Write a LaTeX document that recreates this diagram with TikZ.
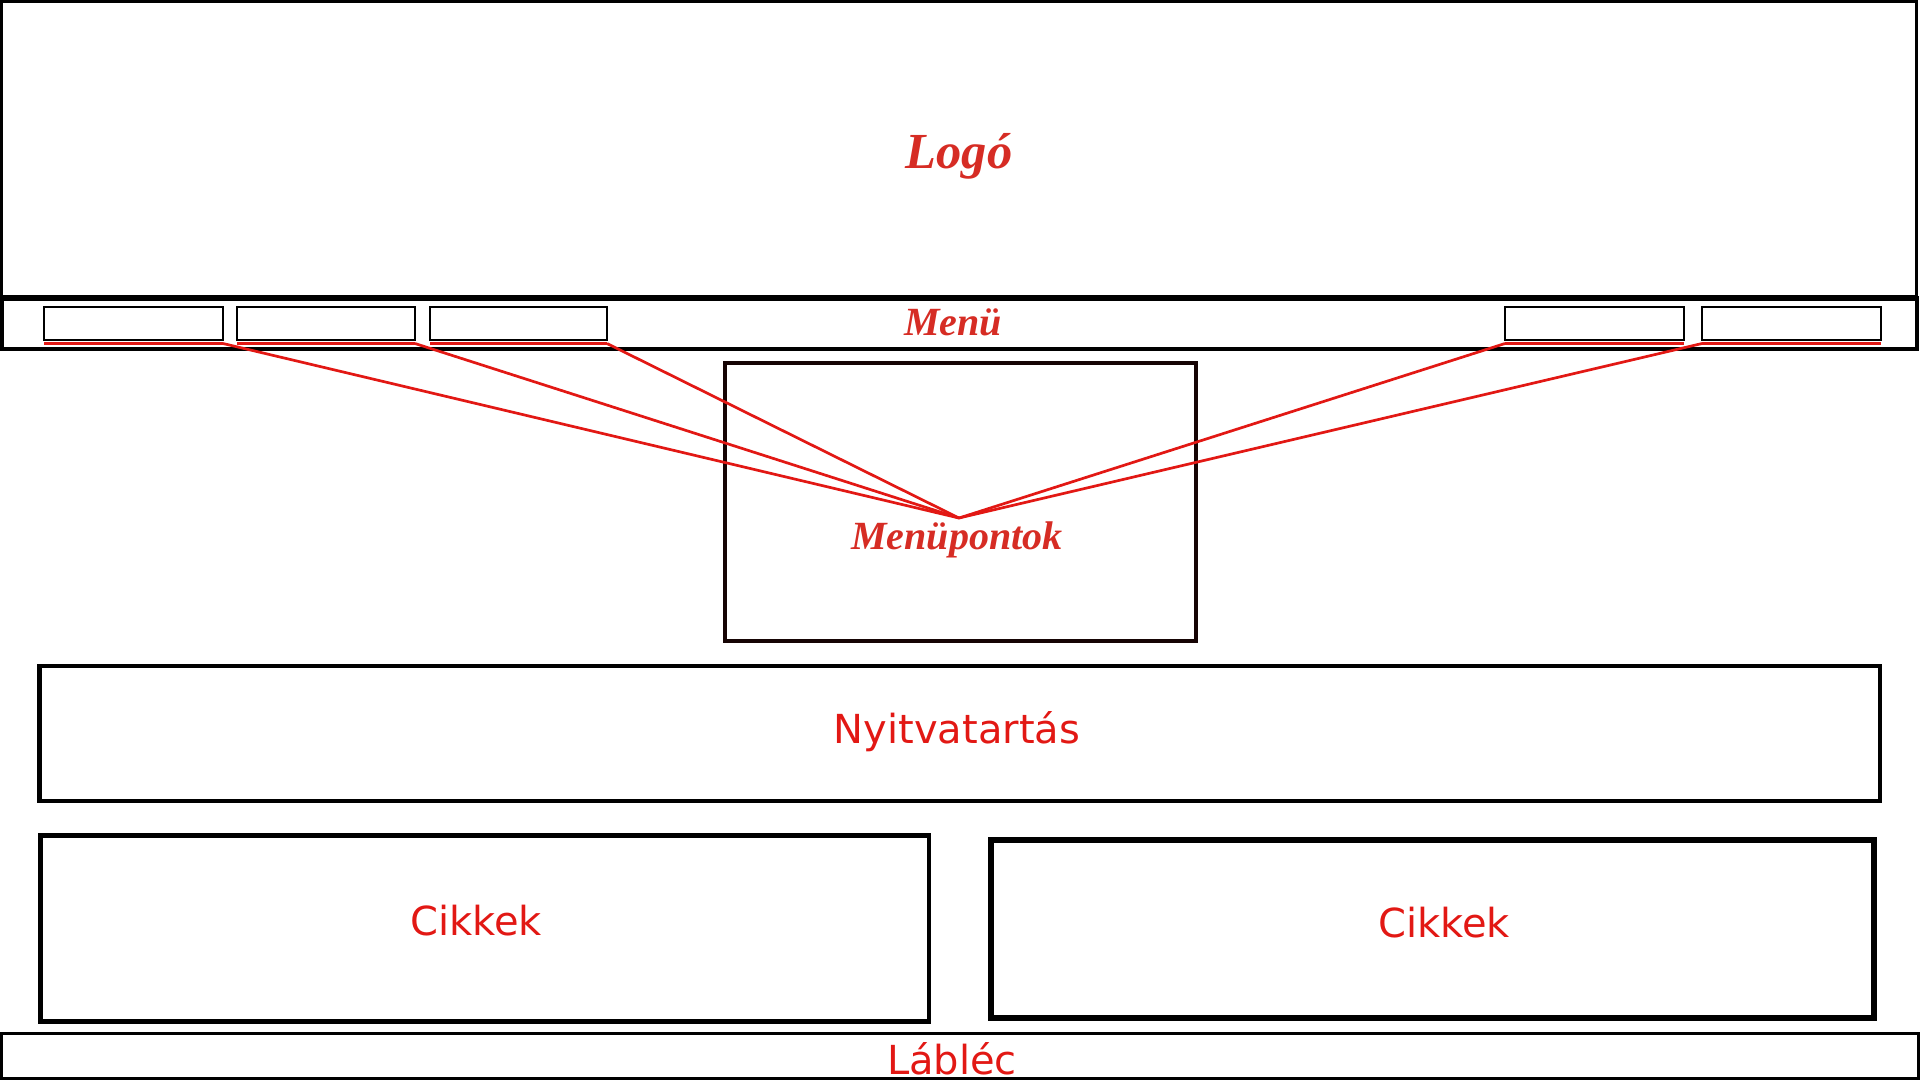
\documentclass[tikz,border=0pt]{standalone}
\usepackage{fontspec}
\setmainfont{Liberation Serif}
\newfontfamily\dejavu{DejaVu Sans}
\definecolor{rd}{RGB}{226,24,20}
\definecolor{logored}{RGB}{214,44,36}
\definecolor{dk}{RGB}{22,4,4}
\tikzset{
  box/.style={draw=black, inner sep=0pt, outer sep=0pt, line width=#1},
  box/.default=3pt,
  itembox/.style={draw=black, inner sep=0pt, outer sep=0pt, line width=2pt, minimum width=178pt, minimum height=33pt},
  under/.style={draw=rd, line width=3pt},
  link/.style={draw=rd, line width=2.7pt},
  serlbl/.style={text=logored, font=\bfseries\itshape\fontsize{40}{44}\selectfont, inner sep=0pt, anchor=base},
  sanlbl/.style={text=rd, font=\dejavu\fontsize{40}{44}\selectfont, inner sep=0pt, anchor=base}
}
\begin{document}
\begin{tikzpicture}[x=1pt,y=-1pt]
\useasboundingbox (0,0) rectangle (1920,1080);
% logo area
\node[box=3pt, minimum width=1915pt, minimum height=296pt] (logo) at (959,149.5) {};
\node[serlbl, font=\bfseries\itshape\fontsize{50.5}{54}\selectfont] (logoT) at (959,168) {Logó};
% menu bar
\node[box=4pt, minimum width=1915pt, minimum height=51.5pt] (menu) at (959,323.25) {};
\draw[line width=6pt] (logo.south west) -- (logo.south east);
\node[serlbl] (menuT) at (953,335) {Menü};
% menu items
\node[itembox, minimum width=179pt] (m1) at (133.5,323.5) {};
\node[itembox] (m2) at (326,323.5) {};
\node[itembox, minimum width=177pt] (m3) at (518.5,323.5) {};
\node[itembox, minimum width=179pt] (m4) at (1594.5,323.5) {};
\node[itembox, minimum width=179pt] (m5) at (1791.5,323.5) {};
\foreach \m in {m1,m2,m3,m4,m5}{
  \coordinate (\m l) at ([yshift=-3.5pt]\m.south west);
  \coordinate (\m r) at ([yshift=-3.5pt]\m.south east);
  \draw[under] (\m l) -- (\m r);
}
% menupoints box
\node[box=4.5pt, draw=dk, minimum width=471pt, minimum height=278pt] (mp) at (960.5,502) {};
\coordinate (hub) at (959,518);
\draw[link] (m1r) -- (hub);
\draw[link] (m2r) -- (hub);
\draw[link] (m3r) -- (hub);
\draw[link] (m4l) -- (hub);
\draw[link] (m5l) -- (hub);
\node[serlbl] (mpT) at (957,549) {Menüpontok};
% opening hours
\node[box=4.5pt, minimum width=1840.5pt, minimum height=135pt] (ny) at (959.75,733.5) {};
\node[sanlbl] (nyT) at (957,743) {Nyitvatartás};
% articles
\node[box=4.5pt, minimum width=888.5pt, minimum height=186pt] (c1) at (484.75,928.5) {};
\node[sanlbl] (c1T) at (476,935) {Cikkek};
\node[box=6.5pt, minimum width=883pt, minimum height=178pt] (c2) at (1432.5,929) {};
\node[sanlbl] (c2T) at (1444,937) {Cikkek};
% footer
\node[box=3pt, minimum width=1917pt, minimum height=45pt] (foot) at (959.5,1055.5) {};
\node[sanlbl] (footT) at (952,1074) {Lábléc};
\end{tikzpicture}
\end{document}
